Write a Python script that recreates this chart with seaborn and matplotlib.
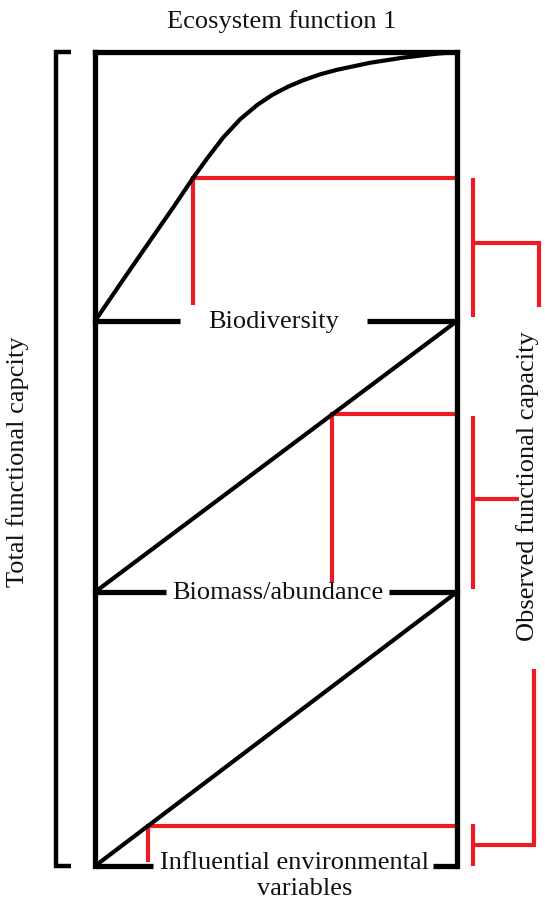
import matplotlib
matplotlib.use("Agg")
import matplotlib.pyplot as plt
import pandas as pd
import seaborn as sns

# Panel 1: biodiversity -> function (saturating curve), in panel units 0..1
bio_x = [0, 0.077, 0.171, 0.215, 0.271, 0.309, 0.354, 0.401, 0.448, 0.489, 0.533, 0.575,
         0.622, 0.669, 0.760, 0.851, 0.945, 1.0]
bio_y = [0, 0.152, 0.335, 0.420, 0.532, 0.603, 0.682, 0.750, 0.803, 0.840, 0.871, 0.895,
         0.917, 0.934, 0.960, 0.979, 0.994, 1.0]
# Panels 2 and 3: linear responses
lin_x = [0, 1]
lin_y = [0, 1]

# observed level on each curve (red corner) and where the red drop ends
obs_x = [0.271, 0.655, 0.147]
obs_y = [0.532, 0.655, 0.147]
drop_end = [0.06, 0.033, 0.015]

# right red brackets: span of vertical, tick height, tick reach, tick end
brk_lo = [0.015, 0.011, 0.0]
brk_hi = [0.532, 0.649, 0.153]
tick_y = [0.29, 0.343, 0.077]
tick_x = [1.227, 1.171, 1.213]
tick_end = [0.052, None, 0.719]

labels = ["Biodiversity", "Biomass/abundance"]
# gaps in the bottom line of each panel left for the labels
gaps = [(0.235, 0.751), (0.196, 0.812), (0.160, 0.934)]

W, H = 545, 901
box_left, box_right = 95, 457
panel_edges = [52, 321, 592, 866]

RED = "#ed1c24"
INK = "#111111"

sns.set_theme(style="white")
plt.rcParams["font.family"] = ["Liberation Serif", "DejaVu Serif"]

fig = plt.figure(figsize=(W / 100, H / 100), dpi=100)

# overlay in pixel units for title, side labels and the left bracket
over = fig.add_axes([0, 0, 1, 1])
over.set_xlim(0, W)
over.set_ylim(H, 0)
over.axis("off")
over.plot([71, 56, 56, 71], [52, 52, 866, 866], color="black", lw=3.2,
          solid_joinstyle="miter", solid_capstyle="butt")
over.text(282, 22, "Ecosystem function 1", ha="center", va="center", fontsize=19, color=INK)
over.text(18, 462, "Total functional capcity", rotation=90, ha="center", va="center",
          fontsize=19, color=INK)
over.text(528, 486, "Observed functional capacity", rotation=90, ha="center", va="center",
          fontsize=19, color=INK)

curves = [(bio_x, bio_y), (lin_x, lin_y), (lin_x, lin_y)]

for i in range(3):
    top, bot = panel_edges[i], panel_edges[i + 1]
    ax = fig.add_axes([box_left / W, 1 - bot / H, (box_right - box_left) / W, (bot - top) / H])
    ax.set_xlim(0, 1)
    ax.set_ylim(0, 1)
    ax.set_facecolor("none")
    ax.set_xticks([])
    ax.set_yticks([])
    for side in ["top", "bottom"]:
        ax.spines[side].set_visible(False)
    for side in ["left", "right"]:
        ax.spines[side].set_color("black")
        ax.spines[side].set_linewidth(3.8)

    if i == 0:
        ax.plot([0, 1], [1, 1], color="black", lw=3.8, clip_on=False, solid_capstyle="projecting")
    g0, g1 = gaps[i]
    ax.plot([0, g0], [0, 0], color="black", lw=3.8, clip_on=False, solid_capstyle="butt")
    ax.plot([g1, 1], [0, 0], color="black", lw=3.8, clip_on=False, solid_capstyle="butt")

    cx, cy = curves[i]
    df = pd.DataFrame({"x": cx, "y": cy})
    sns.lineplot(data=df, x="x", y="y", ax=ax, color="black", lw=3.0, sort=False,
                 estimator=None, clip_on=False, solid_joinstyle="round")
    ax.set_xlabel("")
    ax.set_ylabel("")

    # red observed-level marker
    ax.plot([obs_x[i], obs_x[i], 1], [drop_end[i], obs_y[i], obs_y[i]], color=RED, lw=3.0,
            clip_on=False, solid_joinstyle="miter", solid_capstyle="butt", zorder=1)

    # red bracket on the right
    ax.plot([1.044, 1.044], [brk_lo[i], brk_hi[i]], color=RED, lw=3.0, clip_on=False,
            solid_capstyle="butt")
    tx = [1.044, tick_x[i]]
    ty = [tick_y[i], tick_y[i]]
    if tick_end[i] is not None:
        tx.append(tick_x[i])
        ty.append(tick_end[i])
    ax.plot(tx, ty, color=RED, lw=3.0, clip_on=False, solid_joinstyle="miter",
            solid_capstyle="butt")

    if i < 2:
        ax.text((g0 + g1) / 2, -0.005, labels[i], ha="center", va="center", fontsize=19,
                color=INK)

# bottom label sits on the bottom line with the second row below
over.text(295, 863, "Influential environmental", ha="center", va="center", fontsize=19, color=INK)
over.text(305, 889, "variables", ha="center", va="center", fontsize=19, color=INK)

fig.savefig("out.png", dpi=100)
